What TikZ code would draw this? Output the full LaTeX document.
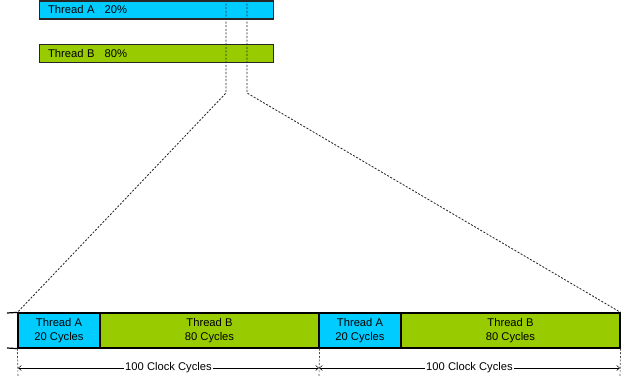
\documentclass[tikz,border=0pt]{standalone}
\usepackage{fontspec}
\setmainfont{Liberation Sans}
\usetikzlibrary{arrows.meta}
\definecolor{thA}{HTML}{00CCFF}
\definecolor{thB}{HTML}{99CC00}
\begin{document}
\begin{tikzpicture}[x=1pt,y=-1pt,
  font=\fontsize{11.2}{14}\selectfont,
  topbar/.style={draw=black!85, line width=1.1pt, minimum width=234pt, minimum height=18pt,
    text width=217pt, inner xsep=8.5pt, inner ysep=0pt, align=left},
  cell/.style={draw=black, line width=1.2pt, minimum height=35pt, inner sep=0pt, align=center},
  zoomline/.style={dashed, dash pattern=on 2pt off 1.6pt, line width=0.85pt, black!85},
  dimline/.style={line width=0.5pt, {Straight Barb[length=3pt,width=5pt]}-{Straight Barb[length=3pt,width=5pt]}},
  extline/.style={dashed, dash pattern=on 2pt off 1.6pt, line width=0.7pt, black!70},
]
\useasboundingbox (0,0) rectangle (621,379);
% top bars
\node[topbar, fill=thA] (ta) at (156.5,10) {Thread A\hspace{10pt}20\%};
\node[topbar, fill=thB] (tb) at (156.5,53.5) {Thread B\hspace{10pt}80\%};
% bottom cells
\node[cell, fill=thA, minimum width=82pt] (a1) at (59,330.5) {Thread A\\20 Cycles};
\node[cell, fill=thB, minimum width=219pt] (b1) at (209.5,330.5) {Thread B\\80 Cycles};
\node[cell, fill=thA, minimum width=82pt] (a2) at (360,330.5) {Thread A\\20 Cycles};
\node[cell, fill=thB, minimum width=219pt] (b2) at (510.5,330.5) {Thread B\\80 Cycles};
% left stubs
\coordinate (st1) at (7,313);
\coordinate (st2) at (7,348);
\draw[line width=1.2pt] (st1) -- (a1.north west);
\draw[line width=1.2pt] (st2) -- (a1.south west);
% zoom lines
\coordinate (p1) at (226,0);
\coordinate (q1) at (226,93);
\coordinate (p2) at (247,0);
\coordinate (q2) at (247,93);
\draw[zoomline] (p1) -- (q1) -- (a1.north west);
\draw[zoomline] (p2) -- (q2) -- (b2.north east);
% extension lines
\coordinate (e1) at (18,377);
\coordinate (e2) at (319,377);
\coordinate (e3) at (620,377);
\draw[extline] (a1.south west) -- (e1);
\draw[extline] (b1.south east) -- (e2);
\draw[extline] (b2.south east) -- (e3);
% dimension lines
\coordinate (d1) at (18,368);
\coordinate (d2) at (319,368);
\coordinate (d3) at (620,368);
\draw[dimline] (d1) -- (d2) node[midway, fill=white, inner xsep=1pt, inner ysep=0pt] (l1) {100 Clock Cycles};
\draw[dimline] (d2) -- (d3) node[midway, fill=white, inner xsep=1pt, inner ysep=0pt] (l2) {100 Clock Cycles};
\end{tikzpicture}
\end{document}
